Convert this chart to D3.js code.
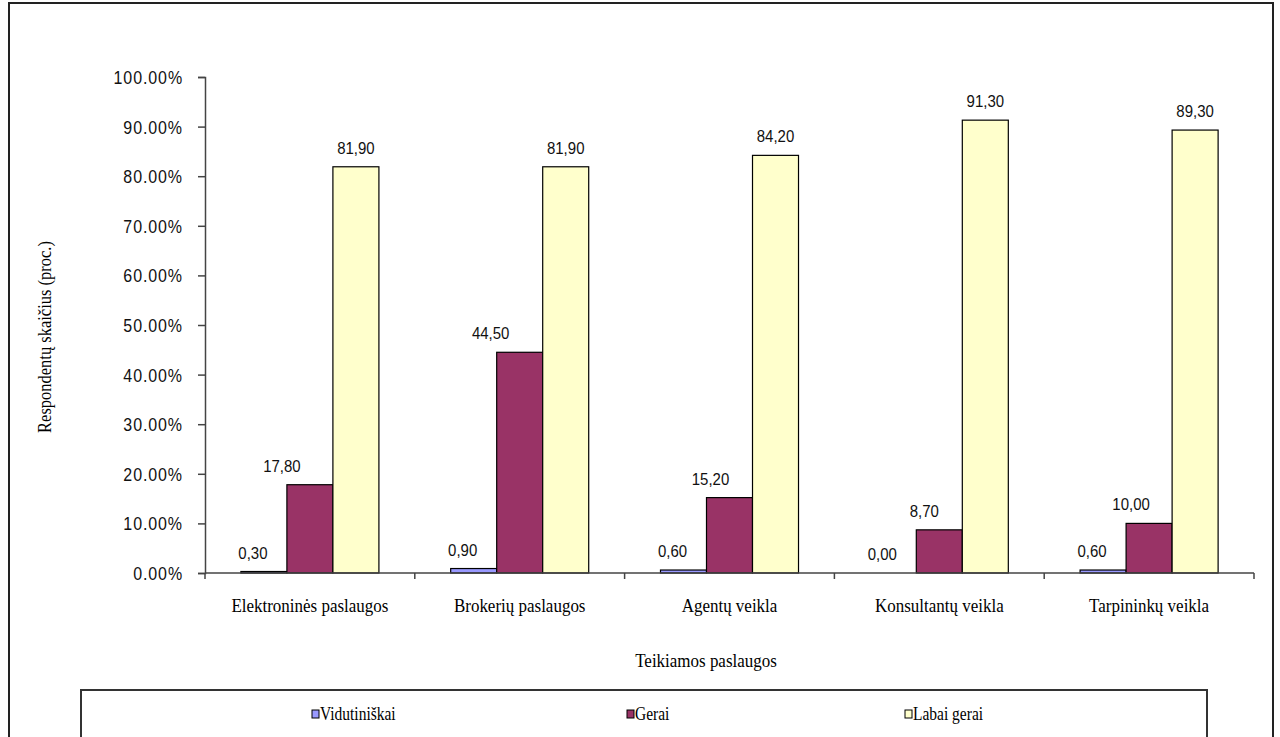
<!DOCTYPE html>
<html>
<head>
<meta charset="utf-8">
<script src="https://cdn.jsdelivr.net/npm/d3@7/dist/d3.min.js"></script>
<style>
  html, body { margin: 0; padding: 0; background: #fff; }
  svg { display: block; }
  .sans { font-family: "Liberation Sans", Arial, sans-serif; fill: #111; }
  .serif { font-family: "Liberation Serif", "Times New Roman", serif; fill: #000; }
</style>
</head>
<body>
<svg id="chart" width="1280" height="737"></svg>
<script>
// Survey results by service type (percent of respondents)
const categories = ["Elektroninės paslaugos", "Brokerių paslaugos", "Agentų veikla", "Konsultantų veikla", "Tarpininkų veikla"];
const seriesNames = ["Vidutiniškai", "Gerai", "Labai gerai"];
const vidutiniskai = [0.3, 0.9, 0.6, 0.0, 0.6];
const gerai = [17.8, 44.5, 15.2, 8.7, 10.0];
const labaiGerai = [81.9, 81.9, 84.2, 91.3, 89.3];
const yTicks = [0, 10, 20, 30, 40, 50, 60, 70, 80, 90, 100];
const yTitle = "Respondentų skaičius (proc.)";
const xTitle = "Teikiamos paslaugos";

const seriesValues = [vidutiniskai, gerai, labaiGerai];
const colors = ["#9999FF", "#993366", "#FFFFCC"];

// horizontal nudge of the value labels (px), per series and category
const labelNudge = [
  [-11, -11, -11, -11, -11],
  [-28, -29, -19, -15, -18],
  [0, 0, 0, 0, 0]
];

const svg = d3.select("#chart");
const stretch = 1.15; // text is drawn slightly tall

const plot = { left: 205, right: 1254, top: 77, bottom: 573 };

const x = d3.scaleBand().domain(categories).range([plot.left, plot.right]).paddingInner(0).paddingOuter(0);
const inner = d3.scaleBand().domain(seriesNames).range([0, x.bandwidth()]).paddingInner(0).paddingOuter(0.78);
const y = d3.scaleLinear().domain([0, 100]).range([plot.bottom, plot.top]);

const labelFmt = d3.formatLocale({ decimal: ",", thousands: " ", grouping: [3], currency: ["", ""] }).format(".2f");
const tickFmt = d3.format(".2f");

// outer frame
svg.append("rect").attr("x", 9).attr("y", 3).attr("width", 1264).attr("height", 780)
  .attr("fill", "none").attr("stroke", "#222").attr("stroke-width", 2);

// bars
const groups = svg.append("g").selectAll("g")
  .data(seriesNames).join("g")
  .attr("fill", (d, i) => colors[i]);

groups.each(function (name, si) {
  const vals = seriesValues[si];
  d3.select(this).selectAll("rect")
    .data(categories.map((c, ci) => ({ c, v: vals[ci] })))
    .join("rect")
    .attr("x", d => x(d.c) + inner(name))
    .attr("y", d => y(d.v))
    .attr("width", inner.bandwidth())
    .attr("height", d => y(0) - y(d.v))
    .attr("stroke", "#000")
    .attr("stroke-width", 1.2);
});

// value labels
seriesNames.forEach((name, si) => {
  const vals = seriesValues[si];
  svg.append("g").selectAll("text")
    .data(categories.map((c, ci) => ({ c, ci, v: vals[ci] })))
    .join("text")
    .attr("class", "sans")
    .attr("font-size", 15)
    .attr("text-anchor", "middle")
    .attr("transform", d => `translate(${x(d.c) + inner(name) + inner.bandwidth() / 2 + labelNudge[si][d.ci]},${y(d.v) - 13}) scale(1,${stretch})`)
    .text(d => labelFmt(d.v));
});

// y axis
const yAxis = svg.append("g")
  .attr("transform", `translate(${plot.left},0)`)
  .call(d3.axisLeft(y).tickValues(yTicks).tickSize(7).tickPadding(15).tickFormat(d => tickFmt(d) + "%"));
yAxis.select(".domain").attr("stroke", "#444").attr("stroke-width", 1.5);
yAxis.selectAll(".tick line").attr("stroke", "#444").attr("stroke-width", 1.5);
yAxis.selectAll(".tick text")
  .attr("class", "sans")
  .attr("font-size", 16)
  .attr("letter-spacing", 0.9)
  .attr("dy", "0.35em")
  .attr("transform", `scale(1,${stretch})`);
yAxis.attr("font-family", null);

// x axis line with ticks at category boundaries
const xAxisG = svg.append("g");
xAxisG.append("line")
  .attr("x1", plot.left).attr("x2", plot.right)
  .attr("y1", y(0)).attr("y2", y(0))
  .attr("stroke", "#444").attr("stroke-width", 1.5);
const boundaries = categories.map(c => x(c)).concat([x(categories[categories.length - 1]) + x.bandwidth()]);
xAxisG.selectAll("line.tk").data(boundaries).join("line")
  .attr("class", "tk")
  .attr("x1", d => d).attr("x2", d => d)
  .attr("y1", y(0)).attr("y2", y(0) + 6)
  .attr("stroke", "#444").attr("stroke-width", 1.5);

// category labels
svg.append("g").selectAll("text").data(categories).join("text")
  .attr("class", "serif")
  .attr("font-size", 17)
  .attr("text-anchor", "middle")
  .attr("transform", d => `translate(${x(d) + x.bandwidth() / 2},${y(0) + 39}) scale(1,${stretch})`)
  .text(d => d);

// axis titles
svg.append("text")
  .attr("class", "serif")
  .attr("font-size", 17)
  .attr("text-anchor", "middle")
  .attr("transform", `translate(706,667) scale(1,${stretch})`)
  .text(xTitle);

svg.append("text")
  .attr("class", "serif")
  .attr("font-size", 16.5)
  .attr("text-anchor", "middle")
  .attr("transform", `translate(51,337) rotate(-90) scale(1,${stretch})`)
  .text(yTitle);

// legend
const legend = svg.append("g");
legend.append("rect")
  .attr("x", 81).attr("y", 690).attr("width", 1126).attr("height", 80)
  .attr("fill", "#fff").attr("stroke", "#333").attr("stroke-width", 2);
const legendX = d3.scaleOrdinal().domain(seriesNames).range([312, 627, 905]);
const items = legend.selectAll("g.item").data(seriesNames).join("g")
  .attr("class", "item")
  .attr("transform", d => `translate(${legendX(d)},715)`);
items.append("rect")
  .attr("x", 0).attr("y", -5).attr("width", 7).attr("height", 8)
  .attr("fill", (d, i) => colors[i]).attr("stroke", "#000").attr("stroke-width", 1);
items.append("text")
  .attr("class", "serif")
  .attr("font-size", 15.5)
  .attr("transform", `translate(8,4.5) scale(1,${stretch})`)
  .text(d => d);
</script>
</body>
</html>
